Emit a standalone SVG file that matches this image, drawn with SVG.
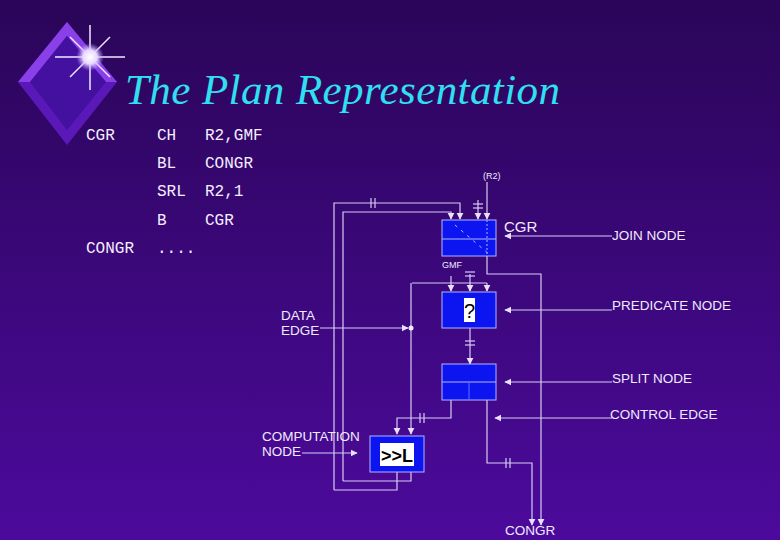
<svg xmlns="http://www.w3.org/2000/svg" width="780" height="540" viewBox="0 0 780 540">
<defs>
<linearGradient id="bg" x1="0" y1="0" x2="0" y2="1"><stop offset="0" stop-color="#2a0558"/><stop offset="1" stop-color="#4c0a9c"/></linearGradient>
<radialGradient id="star"><stop offset="0" stop-color="#fff"/><stop offset="0.5" stop-color="#e8d8ff"/><stop offset="1" stop-color="#b090ff" stop-opacity="0"/></radialGradient>
<marker id="ah" viewBox="0 0 10 10" refX="9" refY="5" markerWidth="6" markerHeight="6" orient="auto"><path d="M0,0L10,5L0,10z" fill="#e8e0ff"/></marker>
<style>
.l{fill:none;stroke:#d8ccf4;stroke-width:1.2}
.a{fill:none;stroke:#d8ccf4;stroke-width:1.2;marker-end:url(#ah)}
.box{fill:#0c14f0;stroke:#b0b8ff;stroke-width:1}
.lab{font-family:"Liberation Sans",Arial,sans-serif;font-size:13.5px;fill:#f0eaff}
.mono{font-family:"Liberation Mono","Courier New",monospace;font-size:16px;fill:#f4eeff}
.tick{stroke:#d8ccf4;stroke-width:1.2}
</style>
</defs>
<rect width="780" height="540" fill="url(#bg)"/>
<g id="logo">
<polygon points="67,22 117,82 67,145 18,82" fill="#5a18b8"/>
<polygon points="67,22 117,82 106,82 67,36 30,82 18,82" fill="#8a40e8"/>
<polygon points="67,36 106,82 67,130 30,82" fill="#4410a0"/>
<g stroke="#f0e8ff" stroke-width="1.5">
<line x1="90" y1="25" x2="90" y2="90"/><line x1="55" y1="57" x2="125" y2="57"/><line x1="70" y1="37" x2="110" y2="77"/><line x1="110" y1="37" x2="70" y2="77"/>
</g>
<circle cx="90" cy="57" r="14" fill="url(#star)"/>
</g>
<text x="125" y="104" font-family="'Liberation Serif',serif" font-style="italic" font-size="43" fill="#30e0f0" textLength="435">The Plan Representation</text>
<g id="code" class="mono">
<text x="86" y="140">CGR</text><text x="157" y="140">CH</text><text x="205" y="140">R2,GMF</text>
<text x="157" y="168">BL</text><text x="205" y="168">CONGR</text>
<text x="157" y="196">SRL</text><text x="205" y="196">R2,1</text>
<text x="157" y="225">B</text><text x="205" y="225">CGR</text>
<text x="86" y="253">CONGR</text><text x="157" y="253">....</text>
</g>
<g id="connectors">
<path class="a" d="M334,490V203H460V219"/>
<path class="a" d="M343,481V212H451V219"/>
<path class="a" d="M478,200V219"/>
<path class="a" d="M487,182V219"/>
<path class="a" d="M487,256V274H541V525"/>
<path class="a" d="M451,276V291"/>
<path class="a" d="M470,274V291"/>
<path class="a" d="M487,283V291"/>
<path class="l" d="M412,283H487"/>
<path class="a" d="M411,283V434"/>
<path class="a" d="M470,328V364"/>
<path class="a" d="M451,400V418H397V434"/>
<path class="a" d="M487,400V463H532V525"/>
<path class="l" d="M397,472V490H334"/>
<path class="l" d="M411,472V481H343"/>
<path class="a" d="M612,236H505"/>
<path class="a" d="M612,310H505"/>
<path class="a" d="M612,382H505"/>
<path class="a" d="M612,418H495"/>
<path class="a" d="M320,328H408"/>
<circle cx="411" cy="328" r="2.5" fill="#f0eaff"/>
<path class="a" d="M302,453H357"/>
<g class="tick">
<line x1="371" y1="198" x2="371" y2="208"/><line x1="375" y1="198" x2="375" y2="208"/>
<line x1="473" y1="204" x2="483" y2="204"/><line x1="473" y1="208" x2="483" y2="208"/>
<line x1="465" y1="272" x2="475" y2="272"/><line x1="465" y1="276" x2="475" y2="276"/>
<line x1="465" y1="341" x2="475" y2="341"/><line x1="465" y1="345" x2="475" y2="345"/>
<line x1="420" y1="413" x2="420" y2="423"/><line x1="424" y1="413" x2="424" y2="423"/>
<line x1="506" y1="458" x2="506" y2="468"/><line x1="510" y1="458" x2="510" y2="468"/>
</g>
</g>
<g id="join">
<rect class="box" x="442" y="220" width="54" height="36"/>
<line x1="442" y1="239" x2="496" y2="239" stroke="#b0b8ff"/>
<line x1="487" y1="220" x2="487" y2="256" stroke="#b0b8ff" stroke-dasharray="2,2"/>
<line x1="455" y1="225" x2="490" y2="255" stroke="#b0b8ff" stroke-dasharray="3,5"/>
</g>
<g id="predicate">
<rect class="box" x="442" y="292" width="54" height="36"/>
<rect x="464" y="298" width="11" height="24" fill="#fff"/>
<text x="469.5" y="318" text-anchor="middle" font-family="'Liberation Sans',sans-serif" font-size="20" fill="#000">?</text>
</g>
<g id="split">
<rect class="box" x="442" y="364" width="54" height="36"/>
<line x1="442" y1="382" x2="496" y2="382" stroke="#b0b8ff"/>
<line x1="469" y1="382" x2="469" y2="400" stroke="#6070ff"/>
</g>
<g id="comp">
<rect class="box" x="370" y="436" width="54" height="36"/>
<rect x="380" y="443" width="34" height="23" fill="#fff"/>
<text x="397" y="462" text-anchor="middle" font-family="'Liberation Sans',sans-serif" font-weight="bold" font-size="18" fill="#000">&gt;&gt;L</text>
</g>
<g id="labels" class="lab">
<text x="483" y="179" font-size="9">(R2)</text>
<text x="504" y="232" font-size="15">CGR</text>
<text x="442" y="268" font-size="9">GMF</text>
<text x="612" y="240">JOIN NODE</text>
<text x="612" y="310">PREDICATE NODE</text>
<text x="612" y="383">SPLIT NODE</text>
<text x="610" y="419">CONTROL EDGE</text>
<text x="281" y="320">DATA</text><text x="281" y="335">EDGE</text>
<text x="262" y="441">COMPUTATION</text><text x="262" y="456">NODE</text>
<text x="505" y="535">CONGR</text>
</g>
</svg>
